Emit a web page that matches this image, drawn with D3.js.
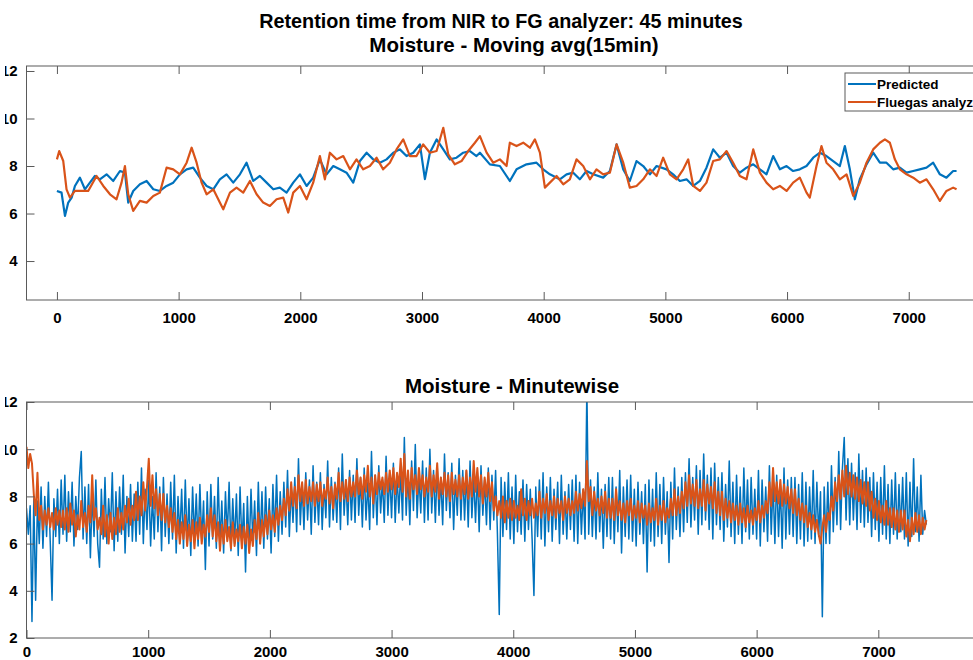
<!DOCTYPE html>
<html>
<head>
<meta charset="utf-8">
<script src="https://cdn.jsdelivr.net/npm/d3@7"></script>
<style>
  html, body { margin: 0; padding: 0; background: #fff; overflow: hidden; }
  svg { display: block; }
  text { font-family: "Liberation Sans", Arial, Helvetica, sans-serif; font-weight: bold; fill: #000; }
</style>
</head>
<body>
<svg id="chart" width="973" height="660"></svg>
<script>
// ---------------- Titles and labels ----------------
const mainTitle = "Retention time from NIR to FG analyzer: 45 minutes";
const topTitle = "Moisture - Moving avg(15min)";
const bottomTitle = "Moisture - Minutewise";
const seriesNames = ["Predicted", "Fluegas analyzer"];
const xTickValues = [0, 1000, 2000, 3000, 4000, 5000, 6000, 7000];
const yTicksTop = [4, 6, 8, 10, 12];
const yTicksBottom = [2, 4, 6, 8, 10, 12];

// ---------------- Moving average (15 min) ----------------
// Predicted moisture: [minute, value]
const avgPredicted = [
  [0,6.95],[38,6.88],[66,5.90],[93,6.46],[121,6.67],[148,7.16],[189,7.51],[230,7.02],[271,7.30],[312,7.58],
  [353,7.44],[408,7.65],[463,7.37],[518,7.79],[559,7.72],[586,6.46],[627,6.95],[682,7.23],[737,7.37],[792,7.02],
  [846,6.95],[901,7.16],[956,7.30],[1011,7.65],[1066,7.86],[1120,7.93],[1175,7.51],[1230,7.16],[1285,7.02],[1339,7.44],
  [1394,7.65],[1449,7.30],[1504,7.65],[1558,8.14],[1613,7.37],[1668,7.58],[1723,7.30],[1778,7.02],[1832,7.09],[1887,6.88],
  [1942,7.30],[1997,7.65],[2052,7.16],[2106,7.51],[2161,8.28],[2216,7.65],[2271,8.00],[2325,7.86],[2380,7.72],[2435,7.30],
  [2490,8.21],[2545,8.56],[2599,8.28],[2654,8.14],[2709,8.28],[2764,8.56],[2818,8.70],[2873,8.42],[2928,8.56],[2983,8.91],
  [3024,7.45],[3065,8.56],[3120,9.12],[3175,8.70],[3229,8.28],[3284,8.35],[3339,8.56],[3394,8.63],[3448,8.42],[3476,8.56],
  [3558,8.07],[3640,8.00],[3722,7.37],[3777,7.86],[3859,8.07],[3941,8.14],[3996,7.86],[4051,7.65],[4133,7.44],[4188,7.65],
  [4243,7.72],[4297,7.44],[4352,7.79],[4407,7.65],[4489,7.51],[4544,7.79],[4599,8.91],[4654,7.86],[4708,7.37],[4763,8.21],
  [4818,8.00],[4873,7.65],[4928,8.00],[5010,7.86],[5064,7.65],[5119,7.37],[5174,7.44],[5229,7.16],[5284,7.37],[5338,7.93],
  [5393,8.70],[5448,8.35],[5503,8.56],[5557,8.00],[5612,7.72],[5667,7.93],[5722,8.07],[5777,7.86],[5831,7.65],[5886,8.42],
  [5941,7.86],[5996,8.00],[6050,7.79],[6105,7.86],[6160,8.00],[6215,8.35],[6270,8.56],[6324,8.42],[6379,8.21],[6434,8.00],
  [6475,8.84],[6516,7.86],[6557,6.60],[6598,7.44],[6653,8.07],[6708,8.56],[6763,8.14],[6817,8.14],[6872,7.86],[6927,7.93],
  [6982,7.72],[7037,7.79],[7091,7.86],[7146,7.93],[7201,8.14],[7256,7.65],[7310,7.51],[7365,7.79],[7393,7.79]
];
// Flue gas analyzer moisture: [minute, value]
const avgFluegas = [
  [0,8.28],[19,8.63],[52,8.21],[79,7.02],[107,6.67],[148,6.95],[203,6.95],[257,6.95],[326,7.58],[381,7.16],
  [436,6.81],[490,6.60],[531,7.30],[559,8.00],[586,6.81],[627,6.11],[682,6.53],[737,6.46],[792,6.74],[846,6.88],
  [901,7.93],[956,7.86],[1011,7.65],[1066,8.14],[1107,8.77],[1148,8.14],[1189,7.30],[1230,6.81],[1285,7.02],[1339,6.46],
  [1367,6.18],[1422,6.88],[1476,7.09],[1531,6.88],[1586,7.37],[1641,6.81],[1695,6.46],[1750,6.32],[1805,6.60],[1860,6.67],
  [1901,6.04],[1942,6.88],[1997,7.16],[2052,6.60],[2106,7.30],[2161,8.42],[2202,7.44],[2243,8.56],[2298,8.28],[2353,8.42],
  [2408,7.86],[2462,8.28],[2517,7.86],[2572,8.00],[2627,8.35],[2681,7.86],[2736,8.14],[2791,8.70],[2846,9.12],[2901,8.42],
  [2955,8.42],[3010,8.91],[3065,8.56],[3120,8.63],[3175,9.61],[3216,8.49],[3270,8.07],[3325,8.21],[3380,8.63],[3435,8.98],
  [3476,9.26],[3531,8.56],[3585,8.14],[3640,8.28],[3695,8.00],[3722,8.98],[3777,8.84],[3832,8.98],[3887,8.77],[3928,9.12],
  [3969,8.56],[4010,7.09],[4051,7.30],[4106,7.58],[4161,7.23],[4215,7.44],[4270,8.28],[4325,8.00],[4380,7.44],[4434,7.86],
  [4489,7.65],[4544,7.72],[4599,8.91],[4654,8.14],[4708,7.09],[4763,7.16],[4818,7.44],[4873,7.86],[4928,7.58],[4982,8.35],
  [5037,7.65],[5092,7.44],[5147,7.86],[5188,8.28],[5229,7.16],[5284,6.95],[5338,7.30],[5393,8.21],[5448,8.28],[5503,8.63],
  [5557,8.14],[5612,7.58],[5667,7.44],[5722,8.70],[5777,7.72],[5831,7.30],[5886,7.02],[5941,7.16],[5996,6.95],[6050,7.30],
  [6105,7.51],[6160,6.88],[6187,6.67],[6242,8.00],[6283,8.84],[6324,8.14],[6379,7.86],[6434,7.44],[6489,7.65],[6544,6.74],
  [6598,7.30],[6653,8.14],[6708,8.70],[6763,8.98],[6804,9.12],[6845,8.98],[6886,8.28],[6927,7.86],[6982,7.65],[7037,7.51],
  [7091,7.30],[7146,7.44],[7201,7.02],[7256,6.53],[7310,6.95],[7365,7.09],[7393,7.02]
];

// ---------------- Minutewise readings (one value every 15 minutes, one row per 300 min) ----------------
const minuteStep = 15;
const rawPredicted = [
  7.5,6.4,7.6,2.7,7.9,3.6,7.8,6.0,8.4,5.8,8.0,6.3,8.6,6.1,3.6,7.9,6.3,8.3,6.0,8.7,
  6.4,8.9,6.1,8.2,6.5,8.6,5.9,8.0,6.6,8.8,9.9,6.2,8.4,6.0,8.5,5.4,8.1,6.3,8.7,6.0,
  5.0,8.3,6.2,8.8,6.0,7.9,6.5,9.0,5.7,8.2,6.1,8.4,6.4,8.9,5.6,8.0,6.3,8.5,6.1,8.1,
  6.1,8.6,6.4,9.2,6.0,8.3,6.6,8.7,5.9,8.0,6.2,9.0,6.5,8.4,5.7,8.8,6.3,8.1,6.0,8.6,
  6.2,8.9,5.6,8.0,6.3,8.3,5.8,8.7,6.0,7.9,5.5,8.4,6.2,8.1,5.9,8.5,6.1,7.8,4.9,8.2,
  5.9,8.5,6.2,8.0,5.8,8.8,6.0,7.8,5.6,8.2,6.3,8.6,5.7,7.9,6.0,8.1,5.5,8.4,5.9,7.7,
  4.8,8.0,5.7,8.3,6.1,7.8,5.5,8.6,6.0,8.2,5.8,8.4,6.2,7.9,5.6,8.5,6.3,8.9,6.1,8.2,
  6.4,8.6,6.7,9.1,6.3,8.4,6.9,8.8,6.5,9.6,6.8,8.5,6.6,9.0,7.0,8.7,6.4,9.3,6.9,8.6,
  6.8,9.0,6.6,8.5,7.1,9.5,6.7,8.8,7.0,8.6,6.9,9.2,6.6,9.8,7.2,8.7,6.8,9.1,7.0,8.9,
  6.9,9.6,7.2,8.8,6.7,9.2,7.0,8.6,6.6,9.9,7.1,8.9,6.8,9.3,7.3,8.7,6.9,9.7,7.2,9.0,
  7.1,9.4,6.9,8.9,7.3,9.1,7.0,10.5,7.2,9.0,6.8,9.5,7.4,10.2,7.1,8.9,7.3,9.5,6.9,9.2,
  7.0,10.0,7.3,9.1,6.9,9.3,7.2,8.8,6.8,9.8,7.4,9.0,7.1,9.4,6.6,8.9,7.2,9.6,7.0,9.1,
  7.0,9.1,6.7,9.5,7.1,8.8,6.9,9.0,6.5,9.3,7.2,8.7,6.8,9.2,6.6,8.9,7.0,9.1,6.4,3.0,
  8.8,6.3,8.6,6.6,9.0,6.2,8.4,6.0,8.9,6.5,8.2,6.4,8.7,6.1,8.5,6.6,8.3,6.2,3.8,8.4,
  6.3,8.7,6.2,9.0,5.9,8.4,6.5,8.8,6.1,8.3,6.6,8.6,6.0,8.9,6.4,8.2,6.2,8.5,6.6,8.7,
  6.1,8.9,6.0,8.6,6.4,8.3,6.2,12.6,6.4,8.7,6.3,8.4,6.2,9.0,6.5,8.3,5.8,8.5,6.3,8.8,
  6.2,8.8,6.0,8.4,6.5,9.1,5.6,8.4,6.3,8.7,6.2,8.9,6.1,8.3,5.9,8.6,6.4,8.2,6.0,8.5,
  4.8,8.7,6.1,8.3,5.9,9.0,6.3,8.5,6.0,8.8,6.4,8.2,5.2,8.6,6.2,9.2,6.6,8.4,6.3,8.8,
  6.5,9.0,6.9,9.6,6.7,8.8,7.0,9.3,6.4,9.1,6.8,9.8,7.0,8.9,6.6,9.2,6.2,9.4,6.8,8.8,
  6.6,9.0,6.1,8.5,6.7,9.5,6.3,8.6,6.0,8.9,6.4,8.4,6.0,9.2,6.5,8.7,6.2,8.8,6.4,8.3,
  6.2,9.1,5.9,8.7,6.5,8.4,6.1,9.3,6.4,8.6,6.0,8.9,6.3,8.5,5.8,9.2,6.2,8.7,6.4,8.8,
  6.3,8.8,6.0,8.5,6.2,9.0,5.9,8.6,6.1,8.4,6.2,9.1,6.0,8.6,6.3,8.2,2.9,8.4,6.0,8.6,
  6.0,9.3,6.5,8.8,6.8,9.9,6.6,9.2,10.5,7.0,9.6,6.8,9.4,7.0,9.0,6.6,9.8,6.9,9.1,6.7,
  9.2,6.9,8.8,6.3,9.0,6.6,8.6,6.1,8.8,6.4,9.3,6.2,8.5,6.0,8.7,6.4,9.0,6.2,8.5,6.5,
  8.8,6.2,9.0,5.9,8.6,6.3,9.6,6.5,8.4,6.1,8.9,6.4,7.4,6.8
];
const rawFluegas = [
  10.1,9.2,9.8,9.4,8.1,7.2,9.0,7.0,7.6,6.6,7.4,6.8,7.5,6.7,7.3,6.6,7.5,6.8,7.4,6.7,
  7.4,6.6,7.5,6.5,7.7,6.8,7.4,6.3,7.2,6.6,7.8,6.7,7.3,6.5,7.6,6.9,8.9,7.0,7.5,6.6,
  7.1,6.4,7.6,6.3,7.2,6.0,7.3,6.2,7.1,6.4,7.5,6.5,7.3,6.6,7.6,6.9,7.9,6.8,7.6,7.0,
  8.2,7.0,8.0,7.2,8.6,7.4,8.4,9.6,7.6,8.9,7.5,8.3,7.2,8.1,7.0,8.1,6.9,7.6,6.7,7.5,
  6.5,7.3,6.2,7.0,6.0,6.9,6.2,7.2,5.9,6.8,6.1,7.0,5.8,6.9,6.2,7.1,6.0,6.8,6.3,7.2,
  6.5,7.5,6.3,7.2,6.1,6.9,5.7,6.8,6.0,7.0,6.1,6.7,5.8,6.9,5.9,6.6,6.1,6.8,5.8,6.7,
  6.0,6.8,5.6,6.6,5.9,7.0,6.2,7.3,6.0,7.0,6.3,7.2,6.4,7.4,6.6,7.2,6.5,7.5,6.8,7.6,
  7.0,7.9,7.2,8.3,7.4,8.6,7.6,8.4,7.5,8.9,7.8,8.6,7.6,8.7,7.7,8.4,7.8,8.6,7.6,8.5,
  7.8,8.6,7.6,8.3,7.9,8.8,7.7,8.4,7.5,8.5,7.9,9.0,7.8,8.6,7.9,8.7,7.8,8.8,8.0,8.6,
  8.0,9.1,8.1,8.8,7.9,8.9,8.2,9.3,8.0,8.8,7.7,8.9,8.1,9.0,8.3,8.8,8.1,9.0,8.2,9.1,
  8.3,9.2,8.1,9.0,8.4,9.6,8.2,9.8,8.0,9.1,7.9,9.2,8.3,8.9,8.1,9.2,8.3,8.9,8.0,8.8,
  8.2,9.3,8.0,8.9,8.2,9.4,7.9,8.8,8.1,9.0,8.0,8.9,7.8,9.0,8.1,8.7,8.0,8.9,7.9,8.8,
  8.1,9.1,7.9,8.8,8.0,9.5,8.2,9.2,8.0,8.9,7.7,8.8,8.0,9.0,7.8,8.6,7.4,8.0,7.2,7.8,
  7.1,8.0,6.9,7.8,7.1,7.9,7.0,7.8,7.1,7.6,7.0,8.3,7.2,7.9,7.0,7.8,7.2,7.9,7.1,7.7,
  7.2,8.2,7.1,7.9,7.3,8.1,7.0,7.8,7.2,8.0,7.1,7.9,7.3,7.8,7.0,8.0,7.3,7.9,7.2,7.8,
  7.3,8.2,7.4,8.1,7.5,8.3,7.6,9.5,7.8,8.4,7.2,8.2,7.4,7.9,7.2,8.0,7.3,8.2,7.1,7.9,
  7.1,7.9,7.0,8.3,7.2,7.8,7.0,7.7,6.9,7.8,7.2,7.9,7.0,7.6,7.1,7.8,6.9,7.7,7.1,7.6,
  6.8,7.7,6.9,7.5,7.0,7.9,6.8,7.6,7.0,7.8,6.9,7.5,7.1,7.9,7.2,8.3,7.2,8.0,7.3,8.2,
  7.5,8.6,7.6,8.9,7.7,8.5,7.6,8.7,7.5,8.3,7.6,8.7,7.4,8.5,7.7,8.4,7.5,8.6,7.3,8.2,
  7.2,8.2,7.0,7.9,7.1,7.8,6.9,7.7,7.0,7.6,6.8,7.7,6.9,7.5,6.7,7.6,6.9,7.4,6.8,7.5,
  7.0,7.8,6.9,7.6,7.1,7.8,7.3,8.6,7.6,9.2,7.8,8.6,7.7,8.7,7.6,8.5,7.7,8.4,7.5,8.3,
  7.3,8.3,7.2,7.9,7.0,7.7,6.9,7.6,6.7,7.3,6.6,7.2,6.5,7.0,6.4,6.0,6.7,7.2,6.5,7.3,
  7.0,8.0,7.4,8.6,7.8,8.9,7.9,9.1,8.0,9.3,8.1,9.0,8.0,8.9,7.9,8.8,7.8,8.7,7.7,8.6,
  7.6,8.6,7.4,8.2,7.1,7.9,7.0,7.8,6.9,7.6,6.8,7.8,6.8,7.5,6.7,7.5,6.6,7.4,6.5,7.4,
  6.6,7.4,6.3,7.0,6.1,7.1,6.4,7.3,6.5,7.2,6.4,7.1,6.6,7.0
];

// ---------------- Drawing ----------------
const colors = { predicted: "#0072BD", fluegas: "#D95319" };
const frameColor = "#5a5a5a";
const svg = d3.select("#chart");

svg.append("text").attr("x", 501).attr("y", 28).attr("text-anchor", "middle")
  .style("font-size", "19.8px").text(mainTitle);
svg.append("text").attr("x", 514).attr("y", 51.5).attr("text-anchor", "middle")
  .style("font-size", "20.5px").text(topTitle);
svg.append("text").attr("x", 512).attr("y", 392.5).attr("text-anchor", "middle")
  .style("font-size", "20.5px").text(bottomTitle);

// y tick labels run off the left edge of the figure
svg.append("defs").append("clipPath").attr("id", "leftCut")
  .append("rect").attr("x", 5).attr("y", 0).attr("width", 968).attr("height", 660);

function drawPanel(cfg) {
  const { x, y, yTicks, id, xLabelPad, series } = cfg;
  const [x0, x1] = x.range();
  const [yb, yt] = y.range();
  const g = svg.append("g");

  g.append("clipPath").attr("id", id).append("rect")
    .attr("x", x0).attr("y", yt).attr("width", x1 - x0).attr("height", yb - yt);

  const lines = g.append("g").attr("clip-path", `url(#${id})`);
  series.forEach(s => {
    lines.append("path")
      .datum(s.data)
      .attr("fill", "none")
      .attr("stroke", s.color)
      .attr("stroke-width", s.width)
      .attr("stroke-linejoin", "round")
      .attr("d", d3.line().x(d => x(d[0])).y(d => y(d[1])));
  });

  // Bottom axis with inward ticks
  const ax = g.append("g").attr("transform", `translate(0,${yb})`)
    .call(d3.axisBottom(x).tickValues(xTickValues).tickSizeInner(-8).tickSizeOuter(0)
      .tickPadding(xLabelPad).tickFormat(d3.format("d")));
  // Top axis (ticks only)
  const axt = g.append("g").attr("transform", `translate(0,${yt})`)
    .call(d3.axisTop(x).tickValues(xTickValues).tickSizeInner(-8).tickSizeOuter(0).tickFormat(""));
  // Left axis with inward ticks
  const ay = g.append("g").attr("clip-path", "url(#leftCut)")
    .append("g").attr("transform", `translate(${x0},0)`)
    .call(d3.axisLeft(y).tickValues(yTicks).tickSizeInner(-8).tickSizeOuter(0).tickPadding(9)
      .tickFormat(d3.format("d")));

  [ax, axt, ay].forEach(a => {
    a.select(".domain").remove();
    a.selectAll(".tick line").attr("stroke", frameColor).attr("stroke-width", 1);
    a.selectAll(".tick text").attr("fill", "#000")
      .style("font-family", "'Liberation Sans', Arial, sans-serif")
      .style("font-weight", "bold").style("font-size", "15px");
  });

  g.append("rect")
    .attr("x", x0).attr("y", yt).attr("width", x1 - x0).attr("height", yb - yt)
    .attr("fill", "none").attr("stroke", frameColor).attr("stroke-width", 1);
  return g;
}

// Upper panel: 15-minute moving average
const xTop = d3.scaleLinear().domain([-250, 7750]).range([26.5, 1000]);
const yTop = d3.scaleLinear().domain([2.36, 12.21]).range([300, 66]);
drawPanel({
  x: xTop, y: yTop, yTicks: yTicksTop, id: "clipTop", xLabelPad: 12,
  series: [
    { data: avgPredicted, color: colors.predicted, width: 2.2 },
    { data: avgFluegas, color: colors.fluegas, width: 2.2 }
  ]
});

// Legend (its right part runs past the figure edge)
const lg = svg.append("g").attr("transform", "translate(845,73)");
lg.append("rect").attr("width", 200).attr("height", 38).attr("fill", "#fff")
  .attr("stroke", frameColor).attr("stroke-width", 1);
[colors.predicted, colors.fluegas].forEach((c, i) => {
  const yy = 11 + i * 18;
  lg.append("line").attr("x1", 3).attr("x2", 31).attr("y1", yy).attr("y2", yy)
    .attr("stroke", c).attr("stroke-width", 2);
  lg.append("text").attr("x", 32).attr("y", yy + 4.5).style("font-size", "13.5px").text(seriesNames[i]);
});

// Lower panel: minutewise readings
const xBot = d3.scaleLinear().domain([0, 8000]).range([26.5, 1000]);
const yBot = d3.scaleLinear().domain([2, 12]).range([638, 402]);
drawPanel({
  x: xBot, y: yBot, yTicks: yTicksBottom, id: "clipBot", xLabelPad: 8,
  series: [
    { data: rawPredicted.map((v, i) => [i * minuteStep, v]), color: colors.predicted, width: 1.5 },
    { data: rawFluegas.map((v, i) => [i * minuteStep, v]), color: colors.fluegas, width: 2 }
  ]
});
</script>
</body>
</html>
